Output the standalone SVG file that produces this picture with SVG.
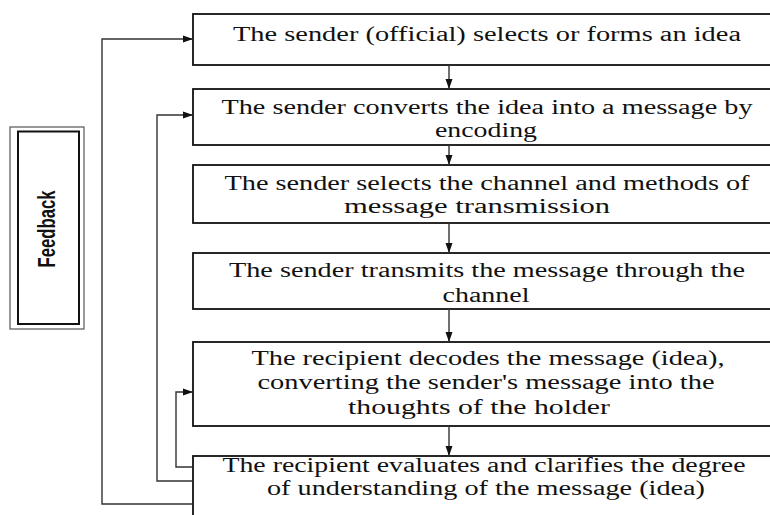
<svg xmlns="http://www.w3.org/2000/svg" width="770" height="515" viewBox="0 0 770 515">
<style>
.box{fill:#fff;stroke:#111;stroke-width:1.8}
.t{font-family:"Liberation Serif","Times New Roman",serif;font-size:20.5px;fill:#111;text-anchor:middle}
.c{fill:none;stroke:#333;stroke-width:1.4}
.fb{font-family:"Liberation Sans",Arial,sans-serif;font-weight:bold;font-size:24px;fill:#111;text-anchor:middle}
</style>
<defs>
<marker id="ah" markerWidth="10" markerHeight="8" refX="10" refY="4" orient="auto" markerUnits="userSpaceOnUse">
<path d="M0,0.5 L10,4 L0,7.5 Z" fill="#111"/>
</marker>
</defs>
<rect width="770" height="515" fill="#fff"/>
<g id="feedback">
<rect x="10" y="127" width="74" height="202" fill="#fff" stroke="#555" stroke-width="1.2"/>
<rect x="18" y="131.5" width="61" height="192.5" fill="#fff" stroke="#111" stroke-width="2"/>
<text class="fb" transform="translate(54.5,229) rotate(-90)" textLength="77" lengthAdjust="spacingAndGlyphs">Feedback</text>
</g>
<g id="n1">
<rect class="box" x="193" y="14" width="590" height="51"/>
<text class="t" x="487" y="41" textLength="508" lengthAdjust="spacingAndGlyphs">The sender (official) selects or forms an idea</text>
</g>
<g id="n2">
<rect class="box" x="193" y="89" width="590" height="56"/>
<text class="t" x="487" y="114" textLength="531" lengthAdjust="spacingAndGlyphs">The sender converts the idea into a message by</text>
<text class="t" x="486" y="137" textLength="102" lengthAdjust="spacingAndGlyphs">encoding</text>
</g>
<g id="n3">
<rect class="box" x="193" y="165" width="590" height="58"/>
<text class="t" x="487" y="190" textLength="525" lengthAdjust="spacingAndGlyphs">The sender selects the channel and methods of</text>
<text class="t" x="477" y="213" textLength="266" lengthAdjust="spacingAndGlyphs">message transmission</text>
</g>
<g id="n4">
<rect class="box" x="193" y="253" width="590" height="56"/>
<text class="t" x="487" y="277" textLength="516" lengthAdjust="spacingAndGlyphs">The sender transmits the message through the</text>
<text class="t" x="486" y="302" textLength="87" lengthAdjust="spacingAndGlyphs">channel</text>
</g>
<g id="n5">
<rect class="box" x="193" y="342" width="590" height="84"/>
<text class="t" x="488" y="365" textLength="473" lengthAdjust="spacingAndGlyphs">The recipient decodes the message (idea),</text>
<text class="t" x="486" y="389" textLength="457" lengthAdjust="spacingAndGlyphs">converting the sender's message into the</text>
<text class="t" x="479" y="414" textLength="262" lengthAdjust="spacingAndGlyphs">thoughts of the holder</text>
</g>
<g id="n6">
<rect class="box" x="193" y="456" width="590" height="80"/>
<text class="t" x="484" y="472" textLength="523" lengthAdjust="spacingAndGlyphs">The recipient evaluates and clarifies the degree</text>
<text class="t" x="486" y="495" textLength="438" lengthAdjust="spacingAndGlyphs">of understanding of the message (idea)</text>
</g>
<g id="connectors">
<line class="c" x1="449" y1="65" x2="449" y2="89" marker-end="url(#ah)"/>
<line class="c" x1="449" y1="145" x2="449" y2="165" marker-end="url(#ah)"/>
<line class="c" x1="449" y1="223" x2="449" y2="253" marker-end="url(#ah)"/>
<line class="c" x1="449" y1="309" x2="449" y2="342" marker-end="url(#ah)"/>
<line class="c" x1="449" y1="426" x2="449" y2="456" marker-end="url(#ah)"/>
<polyline class="c" points="193,504 102,504 102,39 193,39" marker-end="url(#ah)"/>
<polyline class="c" points="193,481 157,481 157,115 193,115" marker-end="url(#ah)"/>
<polyline class="c" points="193,467 176,467 176,392 193,392" marker-end="url(#ah)"/>
</g>
</svg>
